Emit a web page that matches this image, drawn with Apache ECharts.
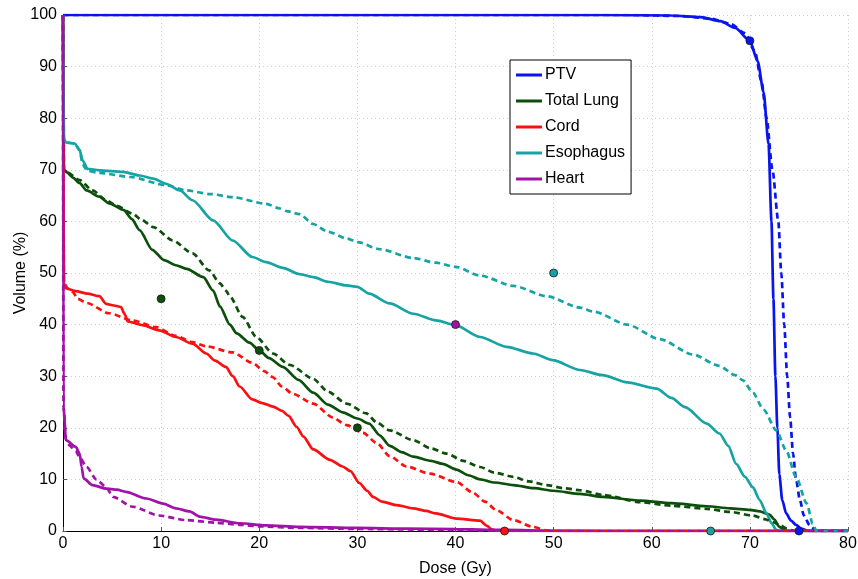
<!DOCTYPE html>
<html>
<head>
<meta charset="utf-8">
<script src="https://cdn.jsdelivr.net/npm/echarts@6/dist/echarts.min.js"></script>
<style>
html,body{margin:0;padding:0;background:#fff;}
#chart{width:858px;height:579px;}
</style>
</head>
<body>
<div id="chart"></div>
<script>
// ---- Data (dose in Gy, volume in %) ----
const xTicks = [0,10,20,30,40,50,60,70,80];
const yTicks = [0,10,20,30,40,50,60,70,80,90,100];
const structures = ['PTV','Total Lung','Cord','Esophagus','Heart'];

const ptvSolid = [[0,100],[55,100],[62,99.9],[65,99.6],[67,98.8],[68.5,97.5],[70,95],[70.8,91],[71.4,85],[71.9,75],[72.2,60],[72.4,45],[72.6,30],[72.8,20],[73.0,11],[73.3,6],[73.7,3.4],[74.2,2],[74.7,1.2],[75.3,0.4],[76,0],[80,0]];
const ptvDashed = [[0,100],[58,100],[63,99.8],[66,99.3],[68,98.3],[69.5,96.5],[70.5,93],[71.2,87],[71.7,80],[72.3,70],[72.9,60],[73.2,50],[73.5,40],[73.8,30],[74.1,22],[74.4,15],[74.7,10],[75.1,6],[75.5,3],[76.1,1.1],[76.8,0],[80,0]];

const lungSolid = [[0,100],[0.1,70],[0.4,69.5],[1,68.5],[1.7,67.4],[2.4,66],[3.7,64.8],[4.7,63.5],[6.2,62.2],[7,60.5],[7.8,58.3],[9.1,54.5],[10.3,52.5],[11.5,51.5],[12.6,50.8],[14.3,49.2],[15.3,46.6],[16,43.5],[17,40],[17.7,38.3],[19,36.5],[20,35],[21,33.5],[22.4,31.8],[24,29.3],[25.5,26.8],[27,24.5],[28.5,23],[30,21.8],[31.2,20.8],[32.3,18.5],[33.3,16.5],[34.5,15.3],[35.7,14.4],[37.5,13.6],[38.7,13],[40.1,11.9],[41.3,10.8],[42.5,10],[44,9.4],[45.9,8.9],[48,8.3],[50,7.8],[52.7,7.2],[55,6.6],[58.8,5.9],[62,5.4],[65.6,4.8],[68,4.4],[70,4.1],[71,3.8],[72,3.2],[72.5,2.2],[73,0.8],[73.7,0],[80,0]];
const lungDashed = [[0,100],[0.1,70],[0.4,69.5],[1.7,68],[3,66],[4.4,64.1],[5.5,63],[7.1,61.5],[8,60.3],[9.2,58.9],[11.2,56.3],[13.2,53.8],[14.9,50.5],[16,48],[16.6,46.6],[17,45.5],[18.3,41.5],[19.7,37.6],[21.4,34.4],[23.1,32.2],[25.5,29.5],[27,27],[28.9,24.7],[30.9,22.8],[32,21],[33.3,19.5],[35.7,17.6],[37.5,16],[39.1,15],[40.8,13.6],[42.5,12.4],[44,11.3],[45.9,10.5],[47.5,9.6],[49.3,8.9],[51,8.3],[52.7,7.9],[55,7],[58.8,5.6],[62,4.9],[65.6,4.3],[68,3.7],[70.3,3.0],[71.5,2.3],[72.4,1.7],[73.2,1],[73.7,0.5],[74.5,0],[80,0]];

const cordSolid = [[0,100],[0.1,48],[0.3,47],[1.3,46.5],[2.5,46],[3.7,45.5],[4.4,44],[5.2,43.7],[5.9,43.4],[6.3,42],[6.6,40.6],[8.1,39.9],[9.8,38.9],[11.5,37.6],[13.2,36.3],[14.6,34.4],[15.5,33],[16.6,31.8],[17.3,30],[18,28],[19.3,25.5],[20.3,24.8],[21.4,24.1],[22.3,23.3],[23,22.3],[23.8,20.2],[24.5,18.3],[25.5,15.8],[27.2,13.8],[28.5,12.5],[29.3,11.6],[30.2,9.3],[31,7.8],[31.6,6.6],[32.5,5.7],[34,5.0],[35.7,4.4],[37,3.9],[38,3.4],[40.1,2.4],[42.5,2.0],[43.2,1],[43.7,0.3],[44.3,0],[80,0]];
const cordDashed = [[0,100],[0.1,48],[0.5,47],[1,46.3],[1.5,45],[2.4,44.2],[4.7,42.2],[7.1,40.8],[9.5,39.5],[11.5,37.8],[13.2,36.6],[14.6,35.8],[17.3,34.6],[19.3,32.6],[20.5,31],[21.4,29.8],[22.3,28],[23.4,26.6],[25.5,24.7],[27.5,22],[28.9,20.5],[30.6,19],[32,17],[33.3,14.5],[35,12.5],[37.4,11.1],[40.1,9.5],[41.8,7.4],[43,5.7],[44.2,4],[45.9,2.1],[47.9,0.8],[49.3,0.1],[50,0],[80,0]];

const esoSolid = [[0,100],[0.1,76],[0.3,75.3],[1.2,75.1],[1.7,73.8],[2,71.8],[2.5,70.2],[3.7,69.9],[6.1,69.6],[7.8,68.9],[9.2,68.3],[10.5,67.3],[11.9,66],[13.2,64.1],[15.3,60.2],[17.3,56.3],[19.3,53.1],[20.7,52.1],[22.4,51],[24.1,49.8],[25.5,49.2],[27,48.3],[28.9,47.6],[30,47.3],[31.2,46],[33.3,44.1],[35.7,42.1],[38,40.8],[40,39.9],[42.5,37.6],[45.2,35.7],[47.9,34.4],[49.9,33.1],[52.7,31.2],[55,30.2],[57.5,28.8],[60.5,27.6],[62,25.8],[63.4,24],[65.6,20.8],[66.9,18.9],[67.8,16.5],[68.6,13],[69.5,10.5],[70.3,8.5],[71,6],[71.7,3.4],[72.2,1.5],[72.7,0.2],[73,0],[80,0]];
const esoDashed = [[0,100],[0.1,76],[0.3,75.3],[1.2,75.1],[1.7,73.8],[2,71],[2.5,69.8],[3.7,69.4],[6.9,68.6],[10.5,67.0],[12.6,66.0],[15,65.3],[17.3,64.7],[20.7,63.4],[22.1,62.5],[22.8,62],[24.1,61.4],[25.5,59.5],[27,58],[28.9,56.7],[30,56],[32.3,54.6],[35.7,52.9],[38,52],[40,51.2],[42.5,49.5],[45.9,47.5],[49.3,45.5],[52.7,43.3],[54.1,42.5],[57.5,40],[60.8,37.2],[64.2,34.2],[66.9,32],[68.5,30.2],[69.3,29.2],[70.3,26.8],[71.4,23.5],[72.7,19.5],[73.7,15.6],[74.7,10.5],[75.8,5.3],[76.4,1.4],[76.8,0],[80,0]];

const heartSolid = [[0,100],[0.05,24],[0.3,17.6],[1.3,16.3],[1.7,15],[1.9,12.4],[2.1,10.2],[3,8.9],[4.4,8.2],[5.5,8],[6.4,7.6],[8.5,6.3],[10.2,5.3],[11.5,4.4],[12.9,3.8],[13.9,2.8],[15.6,2.2],[18,1.5],[20.7,1.1],[24.1,0.8],[30,0.6],[35,0.45],[40,0.35],[45,0.2],[50,0.05],[55,0],[80,0]];
const heartDashed = [[0,100],[0.05,24],[0.3,17.6],[0.7,16.5],[1.3,15.5],[1.7,14.3],[2.4,12.4],[3.4,10],[4.4,8.5],[5.1,6.6],[7.1,4.7],[9.8,3.0],[12.6,2.1],[15.6,1.6],[18,1.2],[20,0.9],[24.1,0.6],[30,0.4],[40,0.2],[45,0.05],[48,0],[80,0]];

const ptvMarkers = [[70,95],[75,0]];
const lungMarkers = [[10,45],[20,35],[30,20]];
const cordMarkers = [[45,0]];
const esoMarkers = [[50,50],[66,0]];
const heartMarkers = [[40,40]];

// ---- Styling ----
const colors = {
  'PTV':'#0a14f0',
  'Total Lung':'#0b4f0b',
  'Cord':'#fa1010',
  'Esophagus':'#16a3a3',
  'Heart':'#a012a8'
};
const FONT = 'Liberation Sans, Arial, Helvetica, sans-serif';

const solids = [ptvSolid, lungSolid, cordSolid, esoSolid, heartSolid];
const dashes = [ptvDashed, lungDashed, cordDashed, esoDashed, heartDashed];
const markers = [ptvMarkers, lungMarkers, cordMarkers, esoMarkers, heartMarkers];

const series = [];
structures.forEach((name, i) => {
  series.push({
    name: name, type: 'line', data: solids[i], symbol: 'none',
    smooth: 0.25, smoothMonotone: 'x',
    lineStyle: {color: colors[name], width: 2.7}, itemStyle: {color: colors[name]},
    animation: false, z: 2
  });
});
structures.forEach((name, i) => {
  series.push({
    name: name + ' (dashed)', type: 'line', data: dashes[i], symbol: 'none',
    smooth: 0.25, smoothMonotone: 'x',
    lineStyle: {color: colors[name], width: 2.7, type: [6, 4]},
    animation: false, z: 3
  });
});
structures.forEach((name, i) => {
  series.push({
    name: name + ' (constraint)', type: 'scatter', data: markers[i], symbol: 'circle', symbolSize: 8,
    itemStyle: {color: colors[name], borderColor: '#1a1a1a', borderWidth: 0.8, opacity: 1},
    animation: false, z: 5
  });
});

const chart = echarts.init(document.getElementById('chart'), null, {renderer: 'canvas'});
chart.setOption({
  backgroundColor: '#fff',
  animation: false,
  textStyle: {fontFamily: FONT},
  grid: {left: 63, right: 10, top: 15, bottom: 48, containLabel: false, outerBoundsMode: 'none'},
  legend: {
    data: structures,
    orient: 'vertical',
    left: 510, top: 60,
    backgroundColor: '#fff',
    borderColor: '#000', borderWidth: 1, borderRadius: 0,
    padding: [7, 6, 7, 6],
    itemWidth: 26, itemHeight: 3, itemGap: 10,
    icon: 'rect',
    textStyle: {fontSize: 16, color: '#000', fontFamily: FONT, padding: [0,0,0,-2]},
    selectedMode: false
  },
  xAxis: {
    type: 'value', min: 0, max: 80, interval: 10,
    name: 'Dose (Gy)', nameLocation: 'middle', nameGap: 30,
    nameTextStyle: {fontSize: 16, color: '#000', fontFamily: FONT},
    axisLine: {show: true, lineStyle: {color: '#000', width: 1}},
    axisTick: {show: true, inside: true, length: 4, lineStyle: {color: '#555'}},
    axisLabel: {fontSize: 16, color: '#000', margin: 5, fontFamily: FONT},
    splitLine: {show: true, lineStyle: {color: '#cfcfcf', type: [1, 3], width: 1}}
  },
  yAxis: {
    type: 'value', min: 0, max: 100, interval: 10,
    name: 'Volume (%)', nameLocation: 'middle', nameGap: 34, nameRotate: 90,
    nameMoveOverlap: false,
    nameTextStyle: {fontSize: 16, color: '#000', fontFamily: FONT},
    axisLine: {show: true, lineStyle: {color: '#000', width: 1}},
    axisTick: {show: true, inside: true, length: 4, lineStyle: {color: '#555'}},
    axisLabel: {fontSize: 16, color: '#000', margin: 6, fontFamily: FONT},
    splitLine: {show: true, lineStyle: {color: '#cfcfcf', type: [1, 3], width: 1}}
  },
  series: series
});
</script>
</body>
</html>
